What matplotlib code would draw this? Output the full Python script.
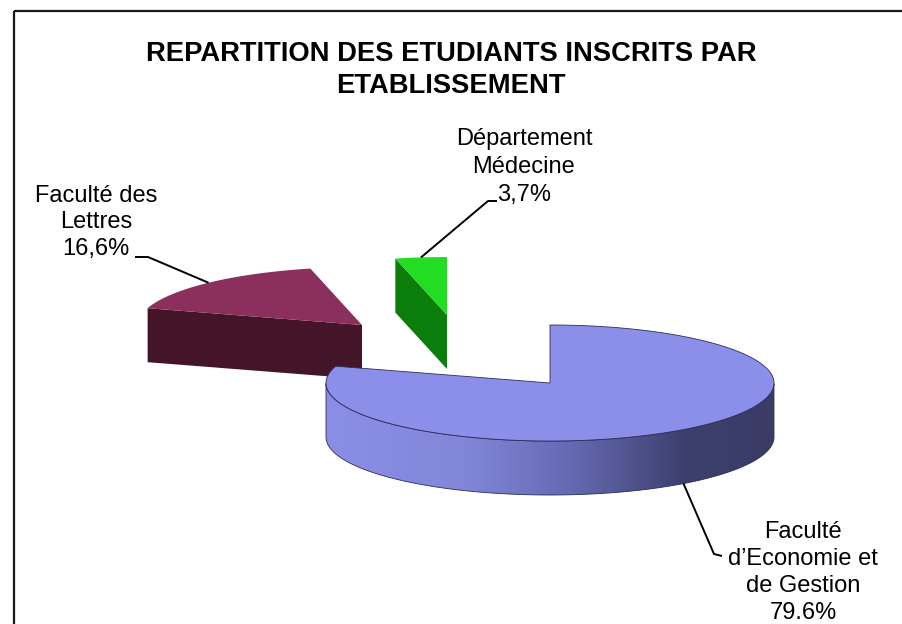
import numpy as np
import matplotlib
matplotlib.use("Agg")
import matplotlib.pyplot as plt
from matplotlib.patches import Polygon, Rectangle
from matplotlib.colors import LinearSegmentedColormap

plt.rcParams["font.family"] = ["Liberation Sans", "DejaVu Sans"]

# ── DATA ──────────────────────────────────────────────────────────────────────
etablissements = ["Faculté d'Economie et de Gestion", "Faculté des Lettres",
                  "Département Médecine"]
parts = [79.6, 16.6, 3.7]
label_lines = [["Faculté", "d’Economie et", "de Gestion", "79.6%"],
               ["Faculté des", "Lettres", "16,6%"],
               ["Département", "Médecine", "3,7%"]]

# ── LAYOUT (pixel space) ──────────────────────────────────────────────────────
W, H = 903, 624
CX, CY = 550, 383          # pie centre
RX, RY = 224, 58           # ellipse radii
DEPTH = 54                 # thickness of the 3D pie
explode_px = [(0, 0), (-188, -58), (-103, -68)]
top_colors = ["#8b8fea", "#8b2f5c", "#22dd22"]
side_colors = [None, "#441528", "#0a7d0a"]
label_pos = [(803, 538), (96, 202), (524, 145)]   # centre x, first baseline
line_step = [27, 26.5, 28]
leader_knee = [[(714, 554), (722, 556)], [(148, 257), (135, 257)],
               [(488, 201), (497, 201)]]

side_grad = LinearSegmentedColormap.from_list(
    "side", [(0, "#8a8ee6"), (0.3, "#8387da"), (0.55, "#6569b2"),
             (0.8, "#3d406e"), (1.0, "#3a3c66")])

fig = plt.figure(figsize=(W / 100, H / 100), dpi=100)
ax = fig.add_axes([0, 0, 1, 1])
ax.set_xlim(0, W)
ax.set_ylim(H, 0)
ax.axis("off")


def pt(cx, cy, t, dz=0):
    return cx + RX * np.cos(t), cy - RY * np.sin(t) + dz


# angles: start at 12 o'clock, go clockwise in series order
total = sum(parts)
spans = [p / total * 2 * np.pi for p in parts]
t_hi = np.pi / 2 - np.concatenate([[0], np.cumsum(spans)[:-1]])
t_lo = t_hi - np.array(spans)

draw_order = [1, 2, 0]     # back slices first
anchors = {}
for i in draw_order:
    cx, cy = CX + explode_px[i][0], CY + explode_px[i][1]
    t1, t2 = t_lo[i], t_hi[i]
    ts = np.linspace(t1, t2, 400)

    # outer curved side (front half only)
    vis = np.sin(ts) <= 0
    if vis.any():
        tv = ts[vis]
        top = np.column_stack(pt(cx, cy, tv))
        bot = np.column_stack(pt(cx, cy, tv[::-1], DEPTH))
        side = Polygon(np.vstack([top, bot]), closed=True, facecolor="none",
                       edgecolor="#2c2d55", lw=0.6, zorder=2)
        ax.add_patch(side)
        if side_colors[i] is None:
            grad = np.linspace(0, 1, 256).reshape(1, -1)
            im = ax.imshow(grad, cmap=side_grad, aspect="auto",
                           extent=(cx - RX, cx + RX, cy + RY + DEPTH + 2, cy - RY),
                           zorder=1.5)
            im.set_clip_path(side)
        else:
            side.set_facecolor(side_colors[i])

    # radial cut faces that face the viewer
    for t, ok in ((t1, np.cos(t1) > 1e-6), (t2, np.cos(t2) < -1e-6)):
        if ok:
            ex, ey = pt(cx, cy, t)
            face = [(cx, cy), (ex, ey), (ex, ey + DEPTH), (cx, cy + DEPTH)]
            ax.add_patch(Polygon(face, closed=True, facecolor=side_colors[i] or "#3a3c66",
                                 edgecolor="none", zorder=2))

    # top face
    arc = np.column_stack(pt(cx, cy, ts))
    ax.add_patch(Polygon(np.vstack([[cx, cy], arc]), closed=True,
                         facecolor=top_colors[i],
                         edgecolor="#2c2d55" if i == 0 else "none",
                         lw=0.6, zorder=3))

    tm = (t1 + t2) / 2
    anchors[i] = pt(cx, cy, tm, DEPTH if np.sin(tm) < 0 else 0)

# leader lines
for i in range(len(parts)):
    xs = [anchors[i][0]] + [p[0] for p in leader_knee[i]]
    ys = [anchors[i][1]] + [p[1] for p in leader_knee[i]]
    ax.plot(xs, ys, color="black", lw=1.4, zorder=4, solid_capstyle="butt")

# data labels
for i, lines in enumerate(label_lines):
    x0, y0 = label_pos[i]
    for k, s in enumerate(lines):
        ax.text(x0, y0 + k * line_step[i], s, ha="center", va="baseline",
                fontsize=17, color="black", zorder=5)

# title
ax.text(451, 61, "REPARTITION DES ETUDIANTS INSCRITS PAR", ha="center",
        va="baseline", fontsize=19.7, fontweight="bold")
ax.text(451, 93, "ETABLISSEMENT", ha="center", va="baseline",
        fontsize=19.7, fontweight="bold")

# chart frame (runs off the right and bottom edges, as in the source)
ax.add_patch(Rectangle((14, 11), W + 40, H + 40, fill=False,
                       edgecolor="#1a1a1a", lw=1.6, zorder=6))

fig.savefig("out.png", dpi=100)
